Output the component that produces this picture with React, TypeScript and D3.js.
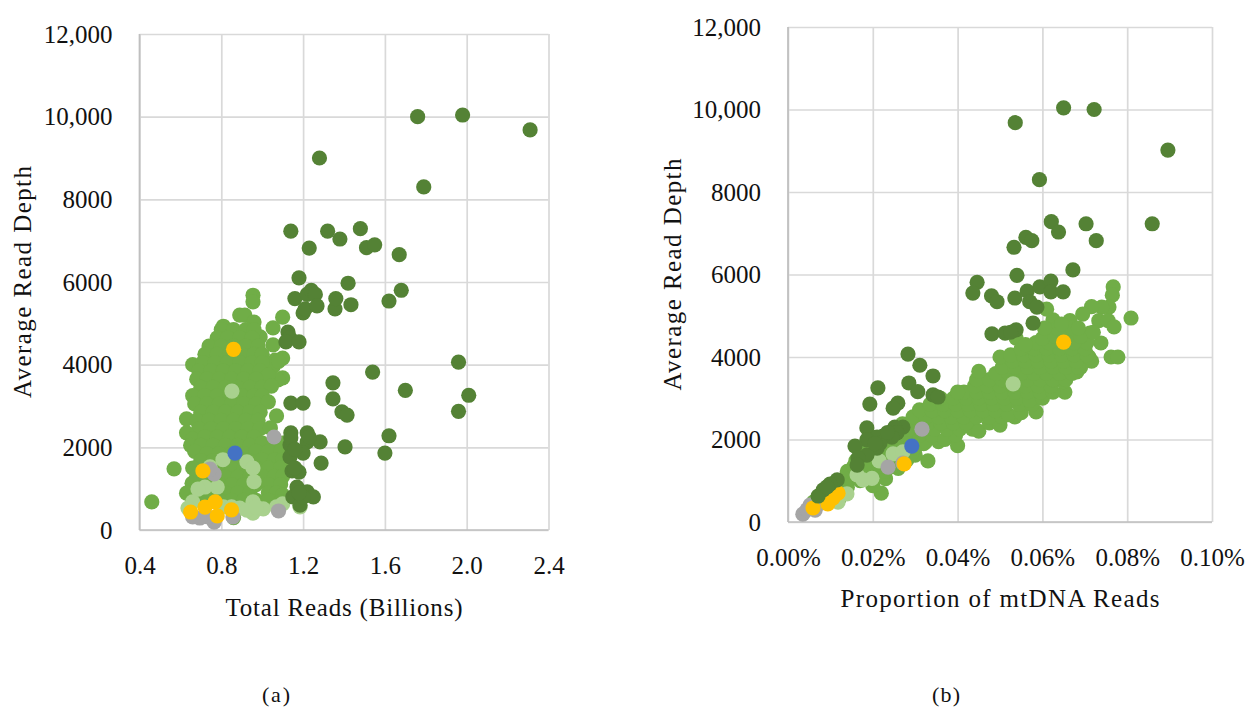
import React, { useEffect, useRef } from "react";
import { select, axisBottom, axisLeft, scaleLinear } from "d3";

type Pt = [number, number];

const depthTicks = [0, 2000, 4000, 6000, 8000, 10000, 12000];
const depthLabels = ["0", "2000", "4000", "6000", "8000", "10,000", "12,000"];
const readsTicks = [0.4, 0.8, 1.2, 1.6, 2.0, 2.4];
const propTicks = [0, 0.02, 0.04, 0.06, 0.08, 0.1];

// panel (a): total reads (billions), average depth
const midA: Pt[] = [
  [0.46, 680], [0.569, 1480], [1.1, 5150], [1.053, 4890], [1.053, 4480], [0.955, 5680], [0.955, 5520], [0.89, 5200], [0.915, 5200], [0.96, 5030], [0.81, 4930], [0.99, 4670],
  [1.063, 4110], [1.1, 4160], [1.053, 3950], [1.1, 3680], [1.077, 3630], [1.08, 4080], [0.66, 4000],
  [0.8, 4850], [0.86, 4850], [0.92, 4850], [0.96, 4850],
  [0.78, 4650], [0.83, 4650], [0.89, 4650], [0.95, 4650],
  [0.74, 4450], [0.8, 4450], [0.86, 4450], [0.92, 4450], [0.98, 4450],
  [0.72, 4250], [0.78, 4250], [0.84, 4250], [0.9, 4250], [0.96, 4250], [1.0, 4250],
  [0.71, 4050], [0.77, 4050], [0.83, 4050], [0.89, 4050], [0.95, 4050], [1.0, 4050],
  [0.69, 3850], [0.75, 3850], [0.81, 3850], [0.87, 3850], [0.93, 3850], [0.99, 3850], [1.03, 3750],
  [0.68, 3650], [0.73, 3650], [0.79, 3650], [0.85, 3650], [0.91, 3650], [0.97, 3650],
  [0.7, 3450], [0.76, 3450], [0.82, 3450], [0.88, 3450], [0.94, 3450], [1.0, 3450], [1.045, 3480],
  [0.66, 3250], [0.72, 3250], [0.78, 3250], [0.84, 3250], [0.9, 3250], [0.96, 3250], [1.0, 3250],
  [0.67, 3050], [0.73, 3050], [0.79, 3050], [0.85, 3050], [0.91, 3050], [0.97, 3050], [1.03, 3100],
  [0.7, 2850], [0.76, 2850], [0.82, 2850], [0.88, 2850], [0.94, 2850], [0.99, 2850], [1.07, 2760],
  [0.63, 2690], [0.68, 2650], [0.74, 2650], [0.8, 2650], [0.86, 2650], [0.92, 2650], [0.98, 2650],
  [0.69, 2450], [0.75, 2450], [0.81, 2450], [0.87, 2450], [0.93, 2450], [0.99, 2450], [1.04, 2470],
  [0.63, 2350], [0.66, 2200], [0.72, 2250], [0.78, 2250], [0.84, 2250], [0.9, 2250], [0.96, 2250],
  [0.65, 2050], [0.7, 2050], [0.76, 2050], [0.82, 2050], [0.88, 2050], [0.94, 2050], [1.0, 2100], [1.06, 2100], [1.1, 2100],
  [0.67, 1900], [0.73, 1850], [0.79, 1850], [0.85, 1850], [0.91, 1850], [0.97, 1900], [1.03, 1900], [1.09, 1900],
  [0.7, 1680], [0.76, 1680], [0.82, 1680], [0.88, 1680], [0.94, 1680], [1.0, 1700], [1.06, 1700], [1.1, 1700],
  [0.66, 1500], [0.73, 1480], [0.79, 1480], [0.85, 1480], [0.91, 1480], [0.97, 1500], [1.03, 1500], [1.09, 1500],
  [0.68, 1300], [0.76, 1280], [0.82, 1280], [0.88, 1280], [0.94, 1280], [1.0, 1300], [1.06, 1300], [1.1, 1300],
  [0.657, 1130], [0.73, 1100], [0.79, 1100], [0.85, 1100], [0.91, 1100], [0.97, 1100], [1.03, 1100], [1.09, 1100],
  [0.63, 890], [0.68, 900], [0.76, 900], [0.82, 900], [0.88, 900], [0.94, 900], [1.03, 900], [1.07, 900], [1.1, 850],
  [0.66, 720], [0.73, 720], [0.79, 720], [0.85, 720], [0.91, 720], [0.97, 720], [1.03, 720], [1.09, 680], [0.86, 300],
];
const lightA: Pt[] = [
  [0.852, 3360], [0.808, 1700], [0.745, 1530], [0.925, 1650], [0.955, 1500], [0.96, 1170], [0.78, 1040], [0.72, 1040], [0.686, 990],
  [0.66, 680], [0.637, 530], [0.81, 560], [0.85, 560], [0.89, 530], [0.955, 680], [0.955, 410], [0.925, 480], [1.005, 510], [0.97, 560], [1.1, 630], [1.185, 560], [1.07, 560],
];
const darkA: Pt[] = [
  [2.31, 9680], [1.98, 10040], [1.76, 10000], [1.28, 9000], [1.79, 8300], [1.14, 7230], [1.32, 7230], [1.48, 7290], [1.38, 7040], [1.23, 6820], [1.51, 6830], [1.55, 6900], [1.67, 6660],
  [1.18, 6100], [1.42, 5970], [1.16, 5600], [1.22, 5700], [1.24, 5800], [1.26, 5700], [1.2, 5250], [1.21, 5350], [1.268, 5420], [1.356, 5350], [1.36, 5600], [1.434, 5450], [1.62, 5540], [1.68, 5800],
  [1.126, 4790], [1.135, 4650], [1.116, 4550], [1.18, 4550], [1.96, 4060], [1.54, 3820], [1.346, 3560], [1.7, 3380], [1.346, 3170], [1.14, 3070], [1.2, 3070], [1.39, 2860], [1.415, 2780], [1.96, 2870], [2.01, 3260],
  [1.62, 2280], [1.6, 1860], [1.405, 2010], [1.288, 1620], [1.283, 2130], [1.14, 2350], [1.22, 2350], [1.136, 2060], [1.22, 2130], [1.14, 2230], [1.23, 2250], [1.2, 1860], [1.136, 1770], [1.16, 1950], [1.146, 1430], [1.18, 1400], [1.16, 1500],
  [1.17, 1040], [1.22, 920], [1.15, 800], [1.25, 800], [1.185, 600], [1.2, 800], [1.18, 900],
];
const greyA: Pt[] = [
  [1.058, 2250], [0.765, 1355], [0.745, 1475], [1.08, 460], [0.857, 315], [0.765, 190], [0.735, 315], [0.695, 290], [0.66, 315],
];
const yellowA: Pt[] = [[0.86, 4370], [0.71, 1430], [0.65, 435], [0.72, 555], [0.77, 680], [0.85, 485], [0.78, 340]];
const blueA: Pt[] = [[0.867, 1860]];

// panel (b): proportion of mtDNA reads (%), average depth
const midB: Pt[] = [
  [0.022, 700], [0.033, 1480], [0.0767, 5700], [0.0765, 5500], [0.0757, 5210], [0.074, 5210], [0.0716, 5220], [0.0695, 5040], [0.0809, 4945], [0.0733, 4880], [0.0755, 4880], [0.0769, 4730],
  [0.0738, 4340], [0.0762, 4000], [0.0778, 4000], [0.0665, 4880], [0.0625, 4900], [0.061, 5160], [0.0538, 4460], [0.0585, 2670], [0.0653, 3150], [0.0681, 3640], [0.0716, 3900], [0.0712, 4580],
  [0.006, 480], [0.009, 480], [0.012, 560], [0.009, 700], [0.012, 760], [0.014, 840], [0.011, 950], [0.014, 1020], [0.017, 1000], [0.02, 880], [0.023, 1050],
  [0.014, 1230], [0.017, 1230], [0.02, 1230], [0.023, 1230], [0.026, 1300], [0.016, 1480], [0.019, 1500], [0.022, 1500], [0.025, 1500], [0.028, 1500], [0.03, 1620],
  [0.0155, 1350], [0.0185, 1350], [0.0215, 1350], [0.0245, 1350],
  [0.0175, 1650], [0.0205, 1650], [0.0235, 1650], [0.0265, 1650], [0.029, 1650],
  [0.018, 1800], [0.021, 1800], [0.024, 1800], [0.027, 1800], [0.03, 1800], [0.032, 1900],
  [0.0205, 1950], [0.0235, 1950], [0.0265, 1950], [0.0295, 1950], [0.0325, 1950], [0.0355, 1950],
  [0.022, 2050], [0.025, 2050], [0.028, 2100], [0.031, 2100], [0.034, 2100], [0.037, 2000], [0.04, 1850], [0.0395, 2100],
  [0.0255, 2250], [0.0285, 2250], [0.0315, 2250], [0.0345, 2250], [0.0375, 2250], [0.0405, 2250], [0.0435, 2250],
  [0.027, 2380], [0.03, 2400], [0.033, 2400], [0.036, 2400], [0.039, 2400], [0.042, 2400], [0.045, 2200], [0.0475, 2400], [0.05, 2350],
  [0.0295, 2550], [0.0325, 2550], [0.0355, 2550], [0.0385, 2550], [0.0415, 2550], [0.0445, 2550], [0.0475, 2550], [0.0505, 2550], [0.0535, 2550],
  [0.031, 2720], [0.034, 2700], [0.037, 2700], [0.04, 2700], [0.043, 2700], [0.046, 2700], [0.049, 2700], [0.052, 2600], [0.055, 2650],
  [0.0335, 2850], [0.0365, 2850], [0.0395, 2850], [0.0425, 2850], [0.0455, 2850], [0.0485, 2850], [0.0515, 2850], [0.0545, 2850], [0.0575, 2850],
  [0.036, 3000], [0.039, 3000], [0.042, 3000], [0.045, 3000], [0.048, 3000], [0.051, 3000], [0.054, 3000], [0.057, 2950], [0.06, 3000],
  [0.0415, 3150], [0.0445, 3150], [0.0475, 3150], [0.0505, 3150], [0.0535, 3150], [0.0565, 3150], [0.0595, 3150], [0.0625, 3150],
  [0.04, 3150], [0.044, 3300], [0.047, 3300], [0.05, 3300], [0.053, 3300], [0.056, 3300], [0.059, 3300], [0.062, 3300], [0.065, 3400],
  [0.0445, 3450], [0.0475, 3450], [0.0505, 3450], [0.0535, 3450], [0.0565, 3450], [0.0595, 3450], [0.0625, 3450], [0.0655, 3450],
  [0.045, 3650], [0.049, 3600], [0.052, 3600], [0.055, 3600], [0.058, 3600], [0.061, 3600], [0.064, 3600], [0.067, 3600], [0.069, 3750],
  [0.0505, 3750], [0.0535, 3750], [0.0565, 3750], [0.0595, 3750], [0.0625, 3750], [0.0655, 3750], [0.0685, 3750],
  [0.05, 4000], [0.053, 3900], [0.056, 3900], [0.059, 3900], [0.062, 3900], [0.065, 3900], [0.068, 3900], [0.071, 4000],
  [0.0525, 4050], [0.0555, 4050], [0.0585, 4050], [0.0615, 4050], [0.0645, 4050], [0.0675, 4050], [0.0705, 4050],
  [0.055, 4200], [0.058, 4200], [0.061, 4200], [0.064, 4200], [0.067, 4200], [0.07, 4200], [0.0705, 4350],
  [0.0585, 4350], [0.0615, 4350], [0.0645, 4350], [0.0675, 4350],
  [0.06, 4450], [0.063, 4500], [0.066, 4500], [0.069, 4500], [0.0635, 4700], [0.067, 4700], [0.056, 4300],
  [0.0605, 4700], [0.0645, 4800], [0.0685, 4700], [0.072, 4600],
];
const lightB: Pt[] = [
  [0.0531, 3350], [0.0248, 1650], [0.0215, 1480], [0.0163, 1140], [0.0177, 1020], [0.0198, 1060], [0.0139, 680], [0.0118, 480], [0.0271, 1700],
];
const darkB: Pt[] = [
  [0.0896, 9017], [0.0536, 9680], [0.065, 10040], [0.0722, 10000], [0.0593, 8300], [0.0859, 7230], [0.0621, 7280], [0.0703, 7230], [0.0727, 6820], [0.0638, 7030], [0.0533, 6660], [0.0561, 6900], [0.0575, 6820],
  [0.0672, 6110], [0.054, 5980], [0.0446, 5810], [0.0436, 5550], [0.048, 5480], [0.0493, 5340], [0.0535, 5430], [0.0564, 5600], [0.057, 5340], [0.0587, 5210], [0.0594, 5700], [0.062, 5840], [0.062, 5580], [0.0649, 5580], [0.0578, 4820],
  [0.0481, 4560], [0.0512, 4580], [0.0538, 4660], [0.0525, 4600],
  [0.0283, 4070], [0.0311, 3800], [0.0342, 3540], [0.0285, 3370], [0.0306, 3160], [0.0342, 3080], [0.0354, 3030], [0.0212, 3250], [0.0193, 2860], [0.0259, 2880], [0.0248, 2760],
  [0.0186, 2280], [0.0271, 2300], [0.0252, 2300], [0.0257, 2160], [0.0245, 2060], [0.0224, 2080], [0.021, 2060], [0.0186, 1990], [0.0217, 1910], [0.021, 1790], [0.0158, 1840], [0.0186, 1620], [0.0165, 1550], [0.0163, 1380], [0.0235, 2170], [0.0205, 1900],
  [0.0116, 1020], [0.0099, 920], [0.0083, 780], [0.0071, 630], [0.0092, 850],
];
const greyB: Pt[] = [[0.0316, 2250], [0.0236, 1330], [0.0271, 1430], [0.0035, 190], [0.0052, 410], [0.0045, 300], [0.0064, 290], [0.0077, 460]];
const yellowB: Pt[] = [[0.065, 4360], [0.0274, 1410], [0.0059, 340], [0.0094, 440], [0.0106, 580], [0.0118, 700]];
const blueB: Pt[] = [[0.0292, 1840]];

const FONT = "'Liberation Serif', serif";
const GRID = "#d9d9d9";
const seriesColors = { mid: "#70ad47", light: "#a9d18e", grey: "#a5a5a5", yellow: "#ffc000", dark: "#548235", blue: "#4472c4" };

type Series = { color: string; points: Pt[] };

type PanelProps = {
  left: number;
  right: number;
  top: number;
  bottom: number;
  xDomain: [number, number];
  xTicks: number[];
  xFormat: (d: number) => string;
  xTitle: string;
  xTitleLength: number;
  xTitleY: number;
  yTitleX: number;
  series: Series[];
};

function Panel({ left, right, top, bottom, xDomain, xTicks, xFormat, xTitle, xTitleLength, xTitleY, yTitleX, series }: PanelProps) {
  const ref = useRef<SVGGElement>(null);

  useEffect(() => {
    const g = select(ref.current);
    g.selectAll("*").remove();

    const x = scaleLinear().domain(xDomain).range([left, right]);
    const y = scaleLinear().domain([0, 12000]).range([bottom, top]);

    const xAxis = axisBottom(x)
      .tickValues(xTicks)
      .tickFormat((d: any) => xFormat(d))
      .tickSize(-(bottom - top))
      .tickPadding(26);
    const yAxis = axisLeft(y)
      .tickValues(depthTicks)
      .tickFormat((d: any) => depthLabels[depthTicks.indexOf(d)])
      .tickSize(-(right - left))
      .tickPadding(27);

    const gx = g.append("g").attr("transform", `translate(0,${bottom})`).call(xAxis);
    const gy = g.append("g").attr("transform", `translate(${left},0)`).call(yAxis);
    gx.select(".domain").remove();
    gy.select(".domain").remove();
    g.selectAll(".tick line").attr("stroke", GRID).attr("stroke-width", 1.7);
    g.selectAll(".tick text").attr("font-family", FONT).attr("font-size", 25).attr("fill", "#111");

    // axis lines sit on top of the grid and are a bit darker
    g.append("line").attr("x1", left).attr("x2", right).attr("y1", bottom).attr("y2", bottom).attr("stroke", "#bfbfbf").attr("stroke-width", 1.7);
    g.append("line").attr("x1", left).attr("x2", left).attr("y1", top).attr("y2", bottom).attr("stroke", "#bfbfbf").attr("stroke-width", 1.7);

    series.forEach((s) => {
      g.append("g")
        .selectAll("circle")
        .data(s.points)
        .join("circle")
        .attr("cx", (d: Pt) => x(d[0]))
        .attr("cy", (d: Pt) => y(d[1]))
        .attr("r", 7.6)
        .attr("fill", s.color);
    });

    g.append("text")
      .attr("x", (left + right) / 2)
      .attr("y", xTitleY)
      .attr("text-anchor", "middle")
      .attr("font-family", FONT)
      .attr("font-size", 25)
      .attr("textLength", xTitleLength)
      .attr("lengthAdjust", "spacing")
      .attr("fill", "#111")
      .text(xTitle);

    g.append("text")
      .attr("transform", `translate(${yTitleX},${(top + bottom) / 2}) rotate(-90)`)
      .attr("text-anchor", "middle")
      .attr("font-family", FONT)
      .attr("font-size", 25)
      .attr("textLength", 232)
      .attr("lengthAdjust", "spacing")
      .attr("fill", "#111")
      .text("Average Read Depth");
  }, []);

  return <g ref={ref} />;
}

export default function App() {
  return (
    <svg width={1245} height={707} style={{ position: "absolute", left: 0, top: 0, background: "#fff" }}>
      <Panel
        left={139.5}
        right={548.5}
        top={34}
        bottom={530}
        xDomain={[0.4, 2.4]}
        xTicks={readsTicks}
        xFormat={(d) => d.toFixed(1)}
        xTitle="Total Reads (Billions)"
        xTitleLength={237}
        xTitleY={616}
        yTitleX={31}
        series={[
          { color: seriesColors.mid, points: midA },
          { color: seriesColors.light, points: lightA },
          { color: seriesColors.grey, points: greyA },
          { color: seriesColors.yellow, points: yellowA },
          { color: seriesColors.dark, points: darkA },
          { color: seriesColors.blue, points: blueA },
        ]}
      />
      <Panel
        left={788}
        right={1212}
        top={27}
        bottom={522}
        xDomain={[0, 0.1]}
        xTicks={propTicks}
        xFormat={(d) => d.toFixed(2) + "%"}
        xTitle="Proportion of mtDNA Reads"
        xTitleLength={319}
        xTitleY={607}
        yTitleX={681}
        series={[
          { color: seriesColors.mid, points: midB },
          { color: seriesColors.light, points: lightB },
          { color: seriesColors.grey, points: greyB },
          { color: seriesColors.yellow, points: yellowB },
          { color: seriesColors.dark, points: darkB },
          { color: seriesColors.blue, points: blueB },
        ]}
      />
      <text x={276} y={702} textAnchor="middle" fontFamily={FONT} fontSize={22} textLength={28} fill="#111">(a)</text>
      <text x={946} y={702} textAnchor="middle" fontFamily={FONT} fontSize={22} textLength={28} fill="#111">(b)</text>
    </svg>
  );
}
